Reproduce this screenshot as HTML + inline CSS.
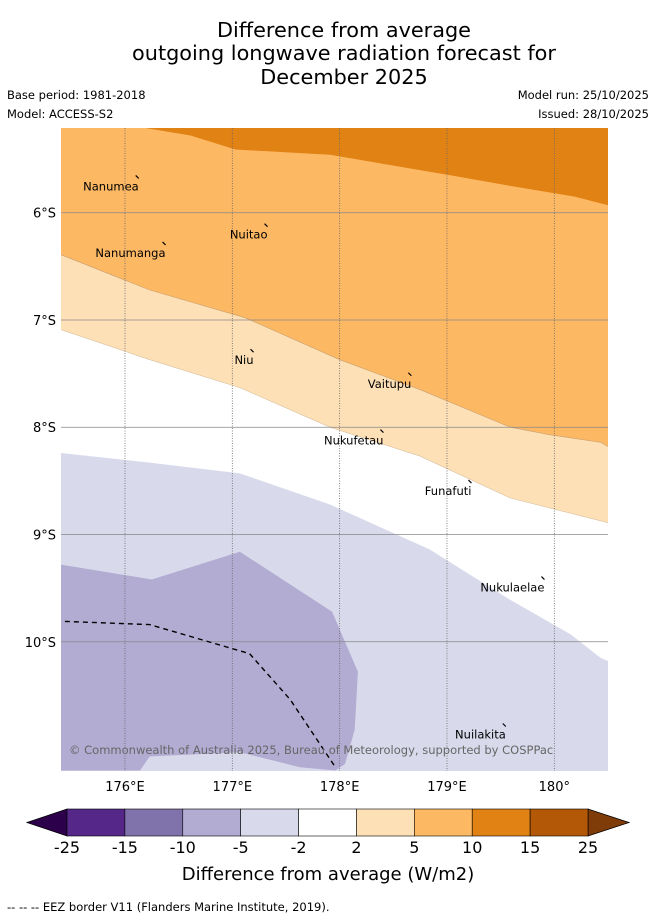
<!DOCTYPE html>
<html><head><meta charset="utf-8">
<style>
body{margin:0;background:#fff;width:655px;height:919px;overflow:hidden;font-family:"DejaVu Sans","Liberation Sans",sans-serif;}
svg text{font-family:"DejaVu Sans","Liberation Sans",sans-serif;}
</style></head>
<body>
<svg id="chart" width="655" height="919" viewBox="0 0 655 919">
  <text x="344" y="37" font-size="20.8" text-anchor="middle">Difference from average</text>
  <text x="344" y="60" font-size="20.8" text-anchor="middle">outgoing longwave radiation forecast for</text>
  <text x="344" y="84" font-size="20.8" text-anchor="middle">December 2025</text>
  <text x="7" y="99" font-size="11.5">Base period: 1981-2018</text>
  <text x="7" y="118" font-size="11.5">Model: ACCESS-S2</text>
  <text x="649" y="99" font-size="11.5" text-anchor="end">Model run: 25/10/2025</text>
  <text x="649" y="118" font-size="11.5" text-anchor="end">Issued: 28/10/2025</text>
  <defs><clipPath id="mapclip"><rect x="61" y="128" width="547" height="643"/></clipPath></defs>
  <g id="map" clip-path="url(#mapclip)"></g>
  <g id="axes"></g>
  <g id="cbar"></g>
  <text x="328" y="880" font-size="18" text-anchor="middle">Difference from average (W/m2)</text>
  <text x="7" y="911" font-size="11.5">--  --  -- EEZ border V11 (Flanders Marine Institute, 2019).</text>
</svg>
<script>
const lonTicks = [176, 177, 178, 179, 180];
const latTicks = [6, 7, 8, 9, 10];
const lonTickLabels = ["176°E", "177°E", "178°E", "179°E", "180°"];
const latTickLabels = ["6°S", "7°S", "8°S", "9°S", "10°S"];
const levelEdges = ["-25", "-15", "-10", "-5", "-2", "2", "5", "10", "15", "25"];
const levelColors = ["#542788", "#8073ac", "#b2abd2", "#d8daeb", "#ffffff", "#fee0b6", "#fdb863", "#e08214", "#b35806"];
const boundary10 = [[176.19,5.21],[176.61,5.28],[177.03,5.41],[177.91,5.46],[179.03,5.65],[179.59,5.75],[180.19,5.85],[180.5,5.93]];
const boundary5 = [[175.4,6.39],[176.23,6.72],[177.12,6.98],[178.0,7.37],[178.75,7.65],[179.59,8.0],[179.96,8.07],[180.43,8.14],[180.5,8.18]];
const boundary2 = [[175.4,7.09],[176.23,7.37],[177.07,7.63],[177.91,8.0],[178.75,8.27],[179.59,8.66],[180.5,8.89]];
const boundaryNeg2 = [[175.4,8.24],[176.23,8.33],[177.07,8.43],[177.91,8.72],[178.84,9.14],[179.59,9.61],[180.15,9.93],[180.43,10.15],[180.5,10.18]];
const regionNeg5 = [[175.4,9.28],[176.25,9.42],[177.07,9.16],[177.93,9.72],[178.17,10.28],[178.14,10.82],[178.05,11.14],[177.96,11.2],[177.63,11.17],[177.07,11.03],[176.23,11.07],[176.14,11.2],[175.4,11.2]];
const eezLine = [[175.44,9.81],[176.23,9.84],[176.47,9.91],[177.16,10.11],[177.54,10.54],[177.96,11.17]];
const islandNames = ["Nanumea","Nuitao","Nanumanga","Niu","Vaitupu","Nukufetau","Funafuti","Nukulaelae","Nuilakita"];
const islandLon = [176.1,177.3,176.35,177.17,178.64,178.38,179.2,179.88,179.52];
const islandLat = [5.68,6.13,6.3,7.3,7.52,8.05,8.52,9.42,10.79];

const NS="http://www.w3.org/2000/svg";
const X0=61,X1=608,Y0=128,Y1=771;
const LON0=175.404,LON1=180.5,LAT0=5.21,LAT1=11.205;
const xs=lon=>X0+(lon-LON0)/(LON1-LON0)*(X1-X0);
const ys=lat=>Y0+(lat-LAT0)/(LAT1-LAT0)*(Y1-Y0);
function mk(tag,attrs,parent){const e=document.createElementNS(NS,tag);for(const k in attrs)e.setAttribute(k,attrs[k]);parent.appendChild(e);return e;}
const pts=a=>a.map(p=>xs(p[0]).toFixed(1)+","+ys(p[1]).toFixed(1)).join(" ");
const map=document.getElementById('map');
function band(line,color,name){
  const e=mk('polygon',{points:pts([[LON1,LAT1],[LON0,LAT1],[LON0,line[0][1]],...line,[LON1,line[line.length-1][1]]]),fill:color},map);
  
  
}
let r=mk('rect',{x:X0,y:Y0,width:X1-X0,height:Y1-Y0,fill:levelColors[7]},map);


band(boundary10,levelColors[6],'band-5-10');
band(boundary5,levelColors[5],'band-2-5');
band(boundary2,levelColors[4],'band-neutral');
band(boundaryNeg2,levelColors[3],'band-neg2-neg5');
let rg=mk('polygon',{points:pts(regionNeg5),fill:levelColors[2]},map);


[[boundary5,'#c9a070'],[boundary2,'#d8c0a0']].forEach(([l,c])=>{mk('polyline',{points:pts(l),fill:'none',stroke:c,'stroke-width':0.6},map);});
const axes=document.getElementById('axes');
lonTicks.forEach((t,i)=>{
  const g=mk('line',{x1:xs(t),x2:xs(t),y1:Y0,y2:Y1,stroke:'#666','stroke-width':0.8,'stroke-dasharray':'1,1.5'},map);
  
  
  const tx=mk('text',{x:xs(t),y:791,'font-size':13,'text-anchor':'middle'},axes);
  tx.textContent=lonTickLabels[i];
  
  
});
latTicks.forEach((t,i)=>{
  const g=mk('line',{x1:X0,x2:X1,y1:ys(t),y2:ys(t),stroke:'#888','stroke-width':0.8},map);
  
  
  const tx=mk('text',{x:56,y:ys(t)+5,'font-size':13,'text-anchor':'end'},axes);
  tx.textContent=latTickLabels[i];
  
  
});
const ez=mk('polyline',{points:pts(eezLine),fill:'none',stroke:'#000','stroke-width':1.4,'stroke-dasharray':'5,4'},map);


islandNames.forEach((n,i)=>{
  const x=xs(islandLon[i]),y=ys(islandLat[i]);
  const m=mk('line',{x1:x,y1:y-3,x2:x+3,y2:y,stroke:'#000','stroke-width':1.2},map);
  
  
  const t=mk('text',{x:x+3,y:y+12,'font-size':11.5,'text-anchor':'end'},map);
  t.textContent=n;
  
  
});
const cp=mk('text',{x:69,y:754,'font-size':11.5,fill:'#666'},map);
cp.textContent='© Commonwealth of Australia 2025, Bureau of Meteorology, supported by COSPPac';


const cb=document.getElementById('cbar');
const CB0=67,CB1=588,CBY=809,CBH=27,cw=(CB1-CB0)/levelColors.length;
const lt=mk('polygon',{points:`${CB0},${CBY} ${CB0},${CBY+CBH} 27,${CBY+CBH/2}`,fill:'#2d004b',stroke:'#000','stroke-width':0.8},cb);


const rt=mk('polygon',{points:`${CB1},${CBY} ${CB1},${CBY+CBH} 629,${CBY+CBH/2}`,fill:'#7f3b08',stroke:'#000','stroke-width':0.8},cb);


levelColors.forEach((c,i)=>{
  const e=mk('rect',{x:CB0+i*cw,y:CBY,width:cw,height:CBH,fill:c,stroke:'#000','stroke-width':0.6},cb);
  
  
});
levelEdges.forEach((l,i)=>{
  const t=mk('text',{x:CB0+i*cw,y:853,'font-size':16,'text-anchor':'middle'},cb);
  t.textContent=l;
  
  
});
</script>
</body></html>
